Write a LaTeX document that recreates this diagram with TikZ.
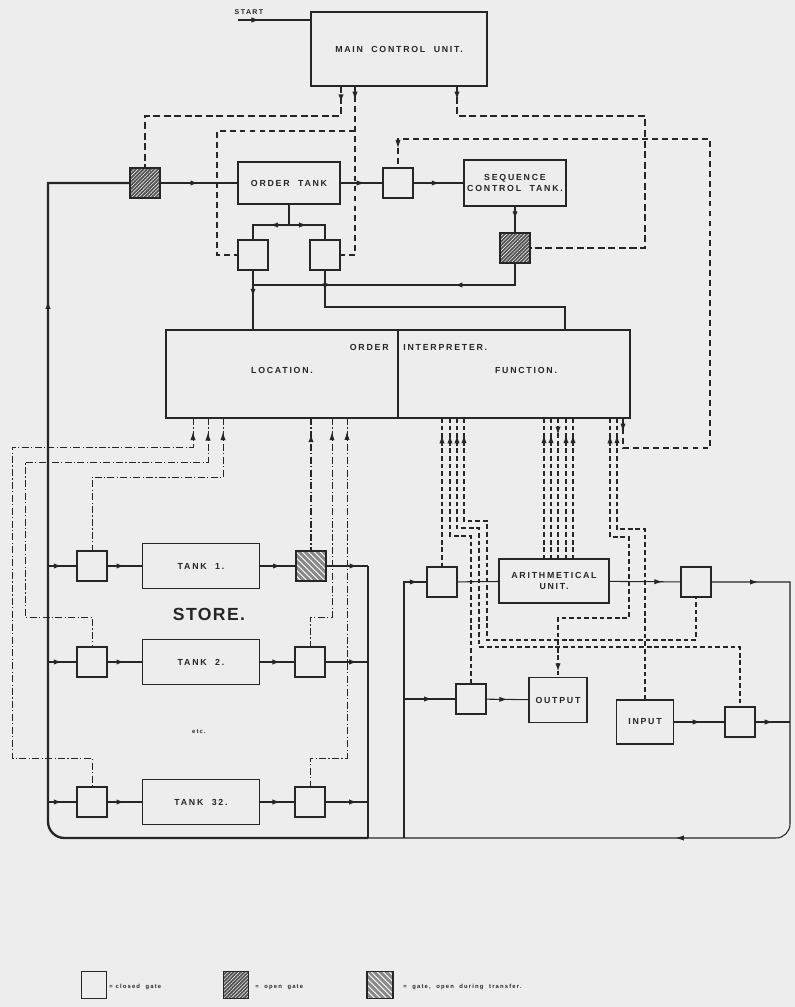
\documentclass[tikz,border=0pt]{standalone}
\usepackage{fontspec}
\newfontfamily\lbl[LetterSpace=20]{Liberation Sans}
\newfontfamily\storefnt[LetterSpace=8]{Liberation Sans}
\usetikzlibrary{arrows.meta,decorations.markings,patterns.meta}
\definecolor{bg}{HTML}{EDEDED}
\definecolor{ink}{HTML}{262626}
\tikzset{
  sz/.style 2 args={minimum width=#1*0.03cm, minimum height=#2*0.03cm},
  unit/.style={draw=ink, line width=1.3pt, inner sep=0pt, align=center, text=ink, font=\lbl\bfseries\fontsize{7.5}{9.5}\selectfont},
  txt/.style={text=ink, inner sep=1pt, font=\lbl\bfseries\fontsize{7.5}{9.5}\selectfont},
  gate/.style={draw=ink, line width=1.2pt, minimum size=0.9cm, inner sep=0pt},
  opengate/.style={gate, preaction={fill=ink!80}, pattern={Lines[angle=45,distance=2.2pt,line width=0.5pt]}, pattern color=bg},
  xfergate/.style={gate, preaction={fill=ink!55}, pattern={Lines[angle=-45,distance=4pt,line width=1.4pt]}, pattern color=bg},
  flow/.style={draw=ink, line width=2pt},
  row/.style={draw=ink, line width=1.3pt},
  wire/.style={draw=ink, line width=0.9pt},
  ctlA/.style={draw=ink, line width=1.8pt, dash pattern=on 6pt off 3pt},
  ctlB/.style={draw=ink, line width=0.9pt, dash pattern=on 5pt off 3.5pt},
  fun/.style={draw=ink, line width=1.1pt, dash pattern=on 4pt off 2.5pt},
  loc/.style={draw=ink, line width=0.8pt, dash pattern=on 6pt off 2pt on 1pt off 2pt},
  ar/.style={postaction={decorate, decoration={markings, mark=at position #1 with {\arrow{Latex[length=7pt,width=4.5pt]}}}}},
  ra/.style={postaction={decorate, decoration={markings, mark=at position #1 with {\arrowreversed{Latex[length=7pt,width=4.5pt]}}}}},
}
\begin{document}
\begin{tikzpicture}[x=0.03cm, y=-0.03cm]
\fill[bg] (0,0) rectangle (795,1007);
\useasboundingbox (0,0) rectangle (795,1007);

\node[unit, sz={176}{74}] (mcu) at (399,49) {MAIN\ \ CONTROL\ \ UNIT.};
\node[txt, font=\lbl\bfseries\fontsize{6}{7}\selectfont, inner sep=0pt] (start) at (249,12) {START};
\node[unit, sz={102}{42}] (otank) at (289,183) {ORDER\ \ TANK};
\node[opengate] (gA) at (145,183) {};
\node[gate] (gB) at (398,183) {};
\node[unit, sz={102}{46}] (sct) at (515,183) {SEQUENCE\\CONTROL\ \ TANK.};
\node[opengate] (gC) at (515,248) {};
\node[gate] (gD) at (253,255) {};
\node[gate] (gE) at (325,255) {};

\node[unit, sz={464}{88}] (oi) at (398,374) {};
\node[txt, anchor=east] (oiA) at (390,347) {ORDER};
\node[txt, anchor=west] (oiB) at (402,347) {INTERPRETER.};
\node[txt] (locn) at (282,370) {LOCATION.};
\node[txt] (func) at (526,370) {FUNCTION.};
\draw[wire, line width=1.2pt] (oi.north) -- (oi.south);

\node[gate] (L1) at (92,566) {};
\node[unit, sz={117}{45}] (T1) at (201,566) {TANK\ \ 1.};
\node[xfergate] (X1) at (311,566) {};
\node[gate] (L2) at (92,662) {};
\node[unit, sz={117}{45}] (T2) at (201,662) {TANK\ \ 2.};
\node[gate] (R2) at (310,662) {};
\node[gate] (L32) at (92,802) {};
\node[unit, sz={117}{45}] (T32) at (201,802) {TANK\ \ 32.};
\node[gate] (R32) at (310,802) {};
\node[text=ink, font=\storefnt\bfseries\fontsize{15}{17}\selectfont] (store) at (209,614) {STORE.};
\node[txt, font=\lbl\bfseries\fontsize{5}{6}\selectfont] (etc) at (199,732) {etc.};

\node[gate] (gF) at (442,582) {};
\node[unit, sz={110}{44}] (au) at (554,581) {ARITHMETICAL\\UNIT.};
\node[gate] (gH) at (696,582) {};
\node[gate] (gG) at (471,699) {};
\node[unit, sz={58}{45}] (out) at (558,700) {OUTPUT};
\node[unit, sz={57}{44}] (inp) at (645,722) {INPUT};
\node[gate] (gI) at (740,722) {};

\node[gate, sz={25}{27}] (lgC) at (94,985) {};
\node[opengate, sz={25}{27}] (lgO) at (236,985) {};
\node[xfergate, sz={26}{27}] (lgT) at (380,985) {};
\node[txt, font=\lbl\bfseries\fontsize{5}{6}\selectfont, anchor=west] (lgCt) at (108,987) {=\ closed\ \ gate};
\node[txt, font=\lbl\bfseries\fontsize{5}{6}\selectfont, anchor=west] (lgOt) at (254,987) {=\ \ open\ \ gate};
\node[txt, font=\lbl\bfseries\fontsize{5}{6}\selectfont, anchor=west] (lgTt) at (402,987) {=\ \ gate,\ \ open\ \ during\ \ transfer.};

\coordinate (startpt) at (238,20);
\coordinate (mcuA) at (341,86);
\coordinate (mcuC) at (355,86);
\coordinate (mcuB) at (457,86);
\coordinate (k1) at (145,116);
\coordinate (k2) at (645,116);
\coordinate (k3) at (355,131);
\coordinate (k4) at (217,255);
\coordinate (k5) at (710,139);
\coordinate (k6) at (623,448);
\coordinate (br) at (289,225);
\coordinate (bus) at (253,285);
\coordinate (fx) at (565,307);
\coordinate (loopL) at (48,838);
\coordinate (jn) at (368,838);
\coordinate (se) at (790,838);
\coordinate (rsw) at (404,838);
\coordinate (rnw) at (404,582);
\coordinate (rmid) at (404,699);
\coordinate (loc1) at (193,418);
\coordinate (loc2) at (208,418);
\coordinate (loc3) at (223,418);
\coordinate (loc4) at (311,418);
\coordinate (loc5) at (332,418);
\coordinate (loc6) at (347,418);
\coordinate (q1) at (12,447);
\coordinate (q2) at (12,758);
\coordinate (q3) at (25,462);
\coordinate (q4) at (25,617);
\coordinate (q5) at (92,477);
\coordinate (q6) at (310,617);
\coordinate (q7) at (310,758);
\coordinate (f1) at (442,418);
\coordinate (f2) at (450,418);
\coordinate (f3) at (457,418);
\coordinate (f4) at (464,418);
\coordinate (f5) at (544,418);
\coordinate (f6) at (551,418);
\coordinate (f7) at (558,418);
\coordinate (f8) at (566,418);
\coordinate (f9) at (573,418);
\coordinate (f10) at (610,418);
\coordinate (f11) at (617,418);
\coordinate (f12) at (623,418);
\coordinate (r1) at (471,536);
\coordinate (r2) at (479,528);
\coordinate (r3) at (479,647);
\coordinate (r4) at (487,521);
\coordinate (r5) at (487,640);
\coordinate (r6) at (629,537);
\coordinate (r7) at (629,618);
\coordinate (r8) at (645,529);

\draw[wire, ar=0.3] (startpt) -- (startpt -| mcu.west);
\draw[flow, ar=0.81] (jn) [rounded corners=14] -- (loopL) [sharp corners] -- (loopL |- gA) -- (gA);
\draw[flow, ar=0.5] (gA) -- (otank);
\draw[wire, ar=0.58] (otank) -- (gB);
\draw[wire, ar=0.53] (gB) -- (sct);
\draw[row, ar=0.5] (sct) -- (gC);
\draw[flow, ar=0.29] (gC) -- (gC |- bus) -- (bus);
\draw[flow, ar=0.45] (gD) -- (gD |- oi.north);
\draw[wire] (otank) -- (br);
\draw[wire, ar=0.38] (br) -| (gD);
\draw[wire, ar=0.36] (br) -| (gE);
\draw[row, ar=0.07] (gE) -- (gE |- fx) -- (fx) -- (fx |- oi.north);

\draw[ctlA, ar=0.06] (mcuA) |- (k1) -- (gA);
\draw[ctlA, ar=0.03] (mcuB) |- (k2) -- (k2 |- gC) -- (gC);
\draw[ctlB, ar=0.076] (mcuC) |- (gE);
\draw[ctlB] (k3) -| (k4) -- (gD);
\draw[ctlB, ar=0.018, ar=0.975] (f12) -- (k6) -- (k6 -| k5) -- (k5) -- (k5 -| gB) -- (gB);

\draw[loc, ra=0.022] (loc1) |- (q1) -- (q2) -| (L32);
\draw[loc, ra=0.03] (loc2) |- (q3) -- (q4) -| (L2);
\draw[loc, ra=0.053] (loc3) |- (q5) -- (L1);
\draw[loc, line width=1.5pt, ra=0.12] (loc4) -- (X1);
\draw[loc, ra=0.056] (loc5) |- (q6) -- (R2);
\draw[loc, ra=0.034] (loc6) |- (q7) -- (R32);

\draw[row, ar=0.5] (L1 -| loopL) -- (L1);
\draw[row, ar=0.5] (L1) -- (T1);
\draw[row, ar=0.6] (T1) -- (X1);
\draw[row, ar=0.75] (X1) -- (X1 -| jn);
\draw[row, ar=0.5] (L2 -| loopL) -- (L2);
\draw[row, ar=0.5] (L2) -- (T2);
\draw[row, ar=0.6] (T2) -- (R2);
\draw[row, ar=0.75] (R2) -- (R2 -| jn);
\draw[row, ar=0.5] (L32 -| loopL) -- (L32);
\draw[row, ar=0.5] (L32) -- (T32);
\draw[row, ar=0.6] (T32) -- (R32);
\draw[row, ar=0.75] (R32) -- (R32 -| jn);
\draw[flow] (X1 -| jn) -- (jn);

\draw[fun, ra=0.115] (f1) -- (gF);
\draw[fun, ra=0.06] (f2) |- (r1) -- (gG);
\draw[fun, ra=0.03] (f3) |- (r2) -- (r3) -| (gI);
\draw[fun, ra=0.034] (f4) |- (r4) -- (r5) -| (gH);
\draw[fun, ra=0.12] (f5) -- (f5 |- au.north);
\draw[fun, ra=0.12] (f6) -- (f6 |- au.north);
\draw[fun, ar=0.12] (f7) -- (f7 |- au.north);
\draw[fun, ra=0.12] (f8) -- (f8 |- au.north);
\draw[fun, ra=0.12] (f9) -- (f9 |- au.north);
\draw[fun, ra=0.049, ar=0.985] (f10) |- (r6) -- (r7) -| (out);
\draw[fun, ra=0.055] (f11) |- (r8) -- (inp);

\draw[wire, ar=0.97] (rsw) -- (rnw) -- (gF);
\draw[wire] (gF) -- (au);
\draw[wire, ar=0.75] (au) -- (gH);
\draw[wire, ar=0.062, ar=0.59] (gH) -- (gH -| se) [rounded corners=12] -- (se) [sharp corners] -- (jn);
\draw[wire, ar=0.55] (rmid) -- (gG);
\draw[wire, ar=0.5] (gG) -- (out);
\draw[wire, ar=0.53] (inp) -- (gI);
\draw[wire, ar=0.5] (gI) -- (gI -| se);
\end{tikzpicture}
\end{document}
